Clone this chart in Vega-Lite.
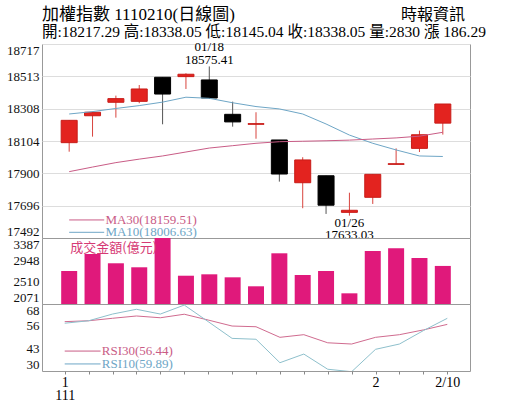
{
  "$schema": "https://vega.github.io/schema/vega-lite/v6.json",
  "padding": {"left": 2, "top": 5, "right": 5, "bottom": 5},
  "background": "white",
  "spacing": 0,
  "bounds": "flush",
  "config": {
    "font": "Liberation Serif",
    "view": {"stroke": "#999999", "strokeWidth": 1},
    "axis": {"labelFont": "Liberation Serif", "labelFontSize": 13, "labelColor": "#111111", "domain": false, "ticks": false, "labelPadding": 3, "labelOverlap": false}
  },
  "datasets": {
    "k": [
      {"i": 0, "o": 18094, "h": 18237, "l": 18037, "c": 18235, "ma10": 18275, "ma30": 17911, "vol": 2729, "rsi30": 58.0, "rsi10": 57.1},
      {"i": 1, "o": 18264, "h": 18290, "l": 18132, "c": 18286, "ma10": 18290, "ma30": 17940, "vol": 3068, "rsi30": 58.5, "rsi10": 58.5},
      {"i": 2, "o": 18349, "h": 18391, "l": 18252, "c": 18372, "ma10": 18310, "ma30": 17968, "vol": 2883, "rsi30": 59.9, "rsi10": 62.3},
      {"i": 3, "o": 18355, "h": 18458, "l": 18343, "c": 18433, "ma10": 18328, "ma30": 17990, "vol": 2803, "rsi30": 61.2, "rsi10": 65.0},
      {"i": 4, "o": 18507, "h": 18507, "l": 18210, "c": 18401, "ma10": 18350, "ma30": 18010, "vol": 3420, "rsi30": 60.2, "rsi10": 62.3},
      {"i": 5, "o": 18511, "h": 18532, "l": 18433, "c": 18526, "ma10": 18381, "ma30": 18035, "vol": 2635, "rsi30": 62.2, "rsi10": 67.4},
      {"i": 6, "o": 18490, "h": 18575.41, "l": 18370, "c": 18376, "ma10": 18374, "ma30": 18060, "vol": 2663, "rsi30": 58.9, "rsi10": 58.0},
      {"i": 7, "o": 18273, "h": 18353, "l": 18195, "c": 18225, "ma10": 18346, "ma30": 18075, "vol": 2603, "rsi30": 55.5, "rsi10": 48.5},
      {"i": 8, "o": 18210, "h": 18286, "l": 18119, "c": 18214, "ma10": 18322, "ma30": 18090, "vol": 2424, "rsi30": 55.1, "rsi10": 48.0},
      {"i": 9, "o": 18111, "h": 18111, "l": 17848, "c": 17896, "ma10": 18307, "ma30": 18100, "vol": 3082, "rsi30": 49.1, "rsi10": 34.7},
      {"i": 10, "o": 17841, "h": 18002, "l": 17680, "c": 17985, "ma10": 18275, "ma30": 18103, "vol": 2649, "rsi30": 50.6, "rsi10": 39.6},
      {"i": 11, "o": 17885, "h": 17885, "l": 17644, "c": 17699, "ma10": 18212, "ma30": 18106, "vol": 2729, "rsi30": 46.0, "rsi10": 31.0},
      {"i": 12, "o": 17654, "h": 17778, "l": 17633.03, "c": 17667, "ma10": 18142, "ma30": 18110, "vol": 2284, "rsi30": 45.3, "rsi10": 29.6},
      {"i": 13, "o": 17749, "h": 17894, "l": 17707, "c": 17894, "ma10": 18090, "ma30": 18117, "vol": 3128, "rsi30": 49.1, "rsi10": 42.3},
      {"i": 14, "o": 17957, "h": 18058, "l": 17957, "c": 17961, "ma10": 18048, "ma30": 18124, "vol": 3182, "rsi30": 50.6, "rsi10": 45.3},
      {"i": 15, "o": 18058, "h": 18170, "l": 18035, "c": 18144, "ma10": 18010, "ma30": 18135, "vol": 2988, "rsi30": 53.3, "rsi10": 52.9},
      {"i": 16, "o": 18217.29, "h": 18338.05, "l": 18145.04, "c": 18338.05, "ma10": 18006.63, "ma30": 18159.51, "vol": 2830, "rsi30": 56.44, "rsi10": 59.89}
    ]
  },
  "vconcat": [
    {
      "width": 428,
      "height": 194,
      "title": {
        "text": "加權指數 1110210(日線圖)",
        "subtitle": "開:18217.29 高:18338.05 低:18145.04 收:18338.05 量:2830 漲 186.29",
        "anchor": "start",
        "frame": "group",
        "font": "Liberation Serif, Noto Sans CJK TC",
        "fontSize": 17,
        "fontWeight": "normal",
        "color": "#000000",
        "subtitleFont": "Liberation Serif, Noto Sans CJK TC",
        "subtitleFontSize": 15.5,
        "subtitleColor": "#000000",
        "subtitlePadding": 1,
        "offset": -34
      },
      "layer": [
        {
          "data": {"name": "k"},
          "mark": {"type": "rule", "strokeWidth": 1},
          "encoding": {
            "x": {"field": "i", "type": "quantitative", "title": null, "scale": {"domain": [-0.95, 16.95], "nice": false, "zero": false}, "axis": null},
            "y": {"field": "l", "type": "quantitative", "title": null, "scale": {"domain": [17492, 18717], "nice": false, "zero": false},
              "axis": {"values": [17492, 17696, 17900, 18104, 18308, 18513, 18717], "tickCount": 20, "format": "d", "labelFlush": true, "labelOverlap": false, "grid": true, "gridColor": "#dddddd", "minExtent": 39, "maxExtent": 39}},
            "y2": {"field": "h"},
            "color": {"condition": {"test": "datum.c >= datum.o", "value": "#d8443e"}, "value": "#555555"}
          }
        },
        {
          "data": {"name": "k"},
          "mark": {"type": "bar", "size": 16, "strokeWidth": 1},
          "encoding": {
            "x": {"field": "i", "type": "quantitative", "title": null, "scale": {"domain": [-0.95, 16.95], "nice": false, "zero": false}},
            "y": {"field": "o", "type": "quantitative", "title": null, "scale": {"domain": [17492, 18717], "nice": false, "zero": false}},
            "y2": {"field": "c"},
            "color": {"condition": {"test": "datum.c >= datum.o", "value": "#e3231f"}, "value": "#000000"},
            "stroke": {"condition": {"test": "datum.c >= datum.o", "value": "#c81c18"}, "value": "#000000"}
          }
        },
        {
          "data": {"name": "k"},
          "mark": {"type": "line", "color": "#6ea6c6", "strokeWidth": 1},
          "encoding": {
            "x": {"field": "i", "type": "quantitative", "title": null, "scale": {"domain": [-0.95, 16.95], "nice": false, "zero": false}},
            "y": {"field": "ma10", "type": "quantitative", "title": null, "scale": {"domain": [17492, 18717], "nice": false, "zero": false}}
          }
        },
        {
          "data": {"name": "k"},
          "mark": {"type": "line", "color": "#c95c86", "strokeWidth": 1},
          "encoding": {
            "x": {"field": "i", "type": "quantitative", "title": null, "scale": {"domain": [-0.95, 16.95], "nice": false, "zero": false}},
            "y": {"field": "ma30", "type": "quantitative", "title": null, "scale": {"domain": [17492, 18717], "nice": false, "zero": false}}
          }
        },
        {
          "data": {"values": [
            {"x1": 0, "x2": 1.5, "y": 17606, "s": "MA30"},
            {"x1": 0, "x2": 1.5, "y": 17528, "s": "MA10"}
          ]},
          "mark": {"type": "rule", "strokeWidth": 1},
          "encoding": {
            "x": {"field": "x1", "type": "quantitative", "title": null, "scale": {"domain": [-0.95, 16.95], "nice": false, "zero": false}},
            "x2": {"field": "x2"},
            "y": {"field": "y", "type": "quantitative", "title": null, "scale": {"domain": [17492, 18717], "nice": false, "zero": false}},
            "color": {"field": "s", "type": "nominal", "scale": {"domain": ["MA30", "MA10"], "range": ["#c95c86", "#6ea6c6"]}, "legend": null}
          }
        },
        {
          "data": {"values": [
            {"x": 1.55, "y": 17606, "s": "MA30", "t": "MA30(18159.51)"},
            {"x": 1.55, "y": 17528, "s": "MA10", "t": "MA10(18006.63)"}
          ]},
          "mark": {"type": "text", "align": "left", "baseline": "middle", "fontSize": 13, "font": "Liberation Serif"},
          "encoding": {
            "x": {"field": "x", "type": "quantitative", "title": null, "scale": {"domain": [-0.95, 16.95], "nice": false, "zero": false}},
            "y": {"field": "y", "type": "quantitative", "title": null, "scale": {"domain": [17492, 18717], "nice": false, "zero": false}},
            "text": {"field": "t"},
            "color": {"field": "s", "type": "nominal", "scale": {"domain": ["MA30", "MA10"], "range": ["#d4326f", "#3a8fb8"]}, "legend": null}
          }
        },
        {
          "data": {"values": [
            {"x": 6, "y": 18698, "t": "01/18"},
            {"x": 6, "y": 18616, "t": "18575.41"},
            {"x": 12, "y": 17589, "t": "01/26"},
            {"x": 12, "y": 17511, "t": "17633.03"}
          ]},
          "mark": {"type": "text", "align": "center", "baseline": "middle", "fontSize": 13, "font": "Liberation Serif", "color": "#000000"},
          "encoding": {
            "x": {"field": "x", "type": "quantitative", "title": null, "scale": {"domain": [-0.95, 16.95], "nice": false, "zero": false}},
            "y": {"field": "y", "type": "quantitative", "title": null, "scale": {"domain": [17492, 18717], "nice": false, "zero": false}},
            "text": {"field": "t"}
          }
        },
        {
          "data": {"values": [{"x": 16.95, "y": 18900, "t": "時報資訊"}]},
          "mark": {"type": "text", "align": "right", "baseline": "middle", "fontSize": 16, "font": "Noto Sans CJK TC", "color": "#000000"},
          "encoding": {
            "x": {"field": "x", "type": "quantitative", "title": null, "scale": {"domain": [-0.95, 16.95], "nice": false, "zero": false}},
            "y": {"field": "y", "type": "quantitative", "title": null, "scale": {"domain": [17492, 18717], "nice": false, "zero": false}},
            "text": {"field": "t"}
          }
        }
      ]
    },
    {
      "width": 428,
      "height": 66,
      "layer": [
        {
          "data": {"name": "k"},
          "mark": {"type": "bar", "size": 16, "color": "#e0197b", "clip": true},
          "encoding": {
            "x": {"field": "i", "type": "quantitative", "title": null, "scale": {"domain": [-0.95, 16.95], "nice": false, "zero": false}, "axis": null},
            "y": {"field": "vol", "type": "quantitative", "title": null, "scale": {"domain": [2071, 3387], "nice": false, "zero": false},
              "axis": {"values": [2071, 2510, 2948, 3387], "tickCount": 20, "format": "d", "labelFlush": true, "labelOverlap": false, "grid": false, "minExtent": 39, "maxExtent": 39}},
            "y2": {"datum": 2071}
          }
        },
        {
          "data": {"values": [{"x": 0.05, "y": 3188, "t": "成交金額(億元)"}]},
          "mark": {"type": "text", "align": "left", "baseline": "middle", "fontSize": 13, "font": "Noto Sans CJK TC", "color": "#d63a74"},
          "encoding": {
            "x": {"field": "x", "type": "quantitative", "title": null, "scale": {"domain": [-0.95, 16.95], "nice": false, "zero": false}},
            "y": {"field": "y", "type": "quantitative", "title": null, "scale": {"domain": [2071, 3387], "nice": false, "zero": false}},
            "text": {"field": "t"}
          }
        }
      ]
    },
    {
      "width": 428,
      "height": 67,
      "layer": [
        {
          "data": {"name": "k"},
          "mark": {"type": "line", "color": "#d06b8f", "strokeWidth": 1, "clip": true},
          "encoding": {
            "x": {"field": "i", "type": "quantitative", "title": null, "scale": {"domain": [-0.95, 16.95], "nice": false, "zero": false},
              "axis": {"values": [0, 1, 2, 3, 4, 5, 6, 7, 8, 9, 10, 11, 12, 13, 14, 15, 16], "tickCount": 40, "labelExpr": "datum.value == 0 ? ['1', '111'] : datum.value == 13 ? '2' : datum.value == 16 ? '2/10' : ''", "ticks": true, "tickSize": 3, "tickColor": "#888888", "labelFontSize": 14, "labelColor": "#000000", "labelOverlap": false, "labelPadding": 1, "labelLineHeight": 13, "labelFlush": false, "grid": false}},
            "y": {"field": "rsi30", "type": "quantitative", "title": null, "scale": {"domain": [30, 68], "nice": false, "zero": false},
              "axis": {"values": [30, 43, 56, 68], "tickCount": 20, "format": "d", "labelFlush": true, "labelOverlap": false, "grid": false, "minExtent": 39, "maxExtent": 39}}
          }
        },
        {
          "data": {"name": "k"},
          "mark": {"type": "line", "color": "#8ec0cc", "strokeWidth": 1, "clip": true},
          "encoding": {
            "x": {"field": "i", "type": "quantitative", "title": null, "scale": {"domain": [-0.95, 16.95], "nice": false, "zero": false}},
            "y": {"field": "rsi10", "type": "quantitative", "title": null, "scale": {"domain": [30, 68], "nice": false, "zero": false}}
          }
        },
        {
          "data": {"values": [
            {"x1": 0, "x2": 1.5, "y": 41.3, "s": "RSI30"},
            {"x1": 0, "x2": 1.5, "y": 34.0, "s": "RSI10"}
          ]},
          "mark": {"type": "rule", "strokeWidth": 1},
          "encoding": {
            "x": {"field": "x1", "type": "quantitative", "title": null, "scale": {"domain": [-0.95, 16.95], "nice": false, "zero": false}},
            "x2": {"field": "x2"},
            "y": {"field": "y", "type": "quantitative", "title": null, "scale": {"domain": [30, 68], "nice": false, "zero": false}},
            "color": {"field": "s", "type": "nominal", "scale": {"domain": ["RSI30", "RSI10"], "range": ["#d06b8f", "#8ec0cc"]}, "legend": null}
          }
        },
        {
          "data": {"values": [
            {"x": 1.55, "y": 41.3, "s": "RSI30", "t": "RSI30(56.44)"},
            {"x": 1.55, "y": 34.0, "s": "RSI10", "t": "RSI10(59.89)"}
          ]},
          "mark": {"type": "text", "align": "left", "baseline": "middle", "fontSize": 13, "font": "Liberation Serif"},
          "encoding": {
            "x": {"field": "x", "type": "quantitative", "title": null, "scale": {"domain": [-0.95, 16.95], "nice": false, "zero": false}},
            "y": {"field": "y", "type": "quantitative", "title": null, "scale": {"domain": [30, 68], "nice": false, "zero": false}},
            "text": {"field": "t"},
            "color": {"field": "s", "type": "nominal", "scale": {"domain": ["RSI30", "RSI10"], "range": ["#d4326f", "#3a8fb8"]}, "legend": null}
          }
        }
      ]
    }
  ]
}
